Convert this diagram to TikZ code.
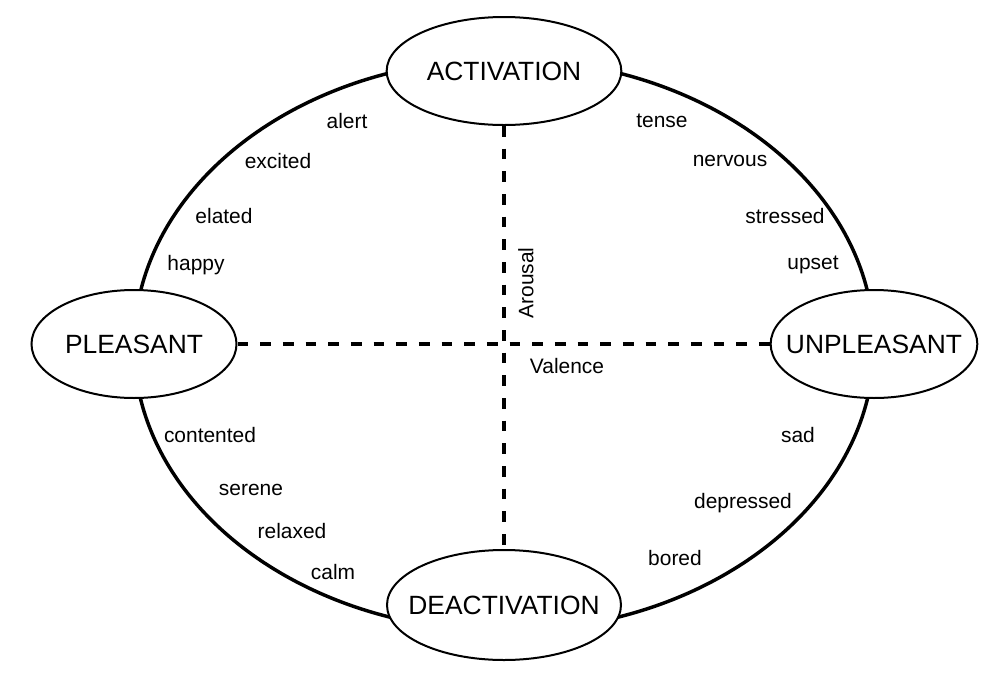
\documentclass[tikz,border=0pt]{standalone}
\usepackage{fontspec}
\setmainfont{Liberation Sans}
\usetikzlibrary{shapes.geometric}

\tikzset{
  pole/.style={draw, ellipse, line width=1.5pt, fill=white, inner xsep=-30pt, inner ysep=0pt, font=\fontsize{19.8}{24}\selectfont},
  mood/.style={inner sep=0pt, font=\fontsize{15.7}{19}\selectfont},
  axis/.style={line width=2.6pt, dash pattern=on 8pt off 9pt}
}

\begin{document}
\begin{tikzpicture}[x=0.75pt, y=-0.75pt]

\useasboundingbox (0,0) rectangle (1008,686);

% circumplex
\draw[line width=2.6pt] (504,345) ellipse [x radius=370, y radius=286];

% poles
\node[pole, minimum width=176pt, minimum height=81pt] (act) at (504,71) {ACTIVATION};
\node[pole, minimum width=175.5pt, minimum height=82.5pt] (deact) at (504,605) {DEACTIVATION};
\node[pole, minimum width=153.75pt, minimum height=81pt] (pleas) at (134,344) {PLEASANT};
\node[pole, minimum width=155pt, minimum height=81pt] (unpleas) at (874,344) {UNPLEASANT};

% axes
\draw[axis] (act.south) -- (deact.north);
\draw[axis] (pleas.east) -- (unpleas.west);
\node[mood, rotate=90] (arousal) at (526,283) {Arousal};
\node[mood] (valence) at (567,366) {Valence};

% moods
\node[mood] (alert) at (347,121) {alert};
\node[mood] (excited) at (278,161) {excited};
\node[mood] (elated) at (224,216) {elated};
\node[mood] (happy) at (196,265) {happy};

\node[mood] (tense) at (662,121) {tense};
\node[mood] (nervous) at (730,161) {nervous};
\node[mood] (stressed) at (785,216) {stressed};
\node[mood] (upset) at (813,265) {upset};

\node[mood] (contented) at (210,435) {contented};
\node[mood] (serene) at (251,490) {serene};
\node[mood] (relaxed) at (292,531) {relaxed};
\node[mood] (calm) at (333,572) {calm};

\node[mood] (sad) at (798,435) {sad};
\node[mood] (depressed) at (743,503) {depressed};
\node[mood] (bored) at (675,558) {bored};

\end{tikzpicture}
\end{document}
